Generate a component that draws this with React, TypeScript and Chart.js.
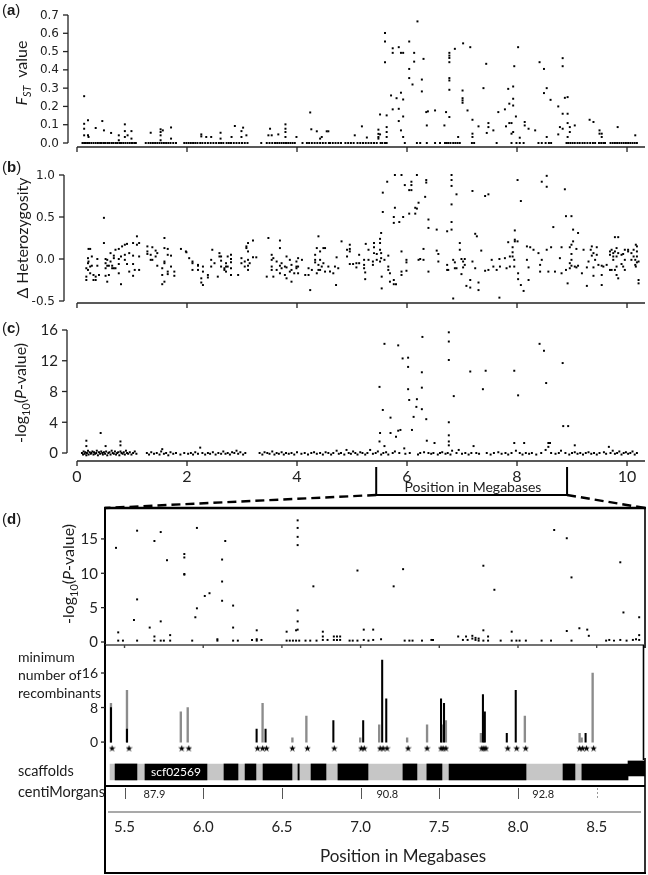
import React, { useEffect, useRef } from 'react';
import { Chart, registerables } from 'chart.js';

Chart.register(...registerables);

type Pt = [number, number];

// ================= DATA =================
const genomeTicks = [0, 2, 4, 6, 8, 10];
const genomeTickLabels = ['0', '2', '4', '6', '8', '10'];
const fstTicks = [0, 0.1, 0.2, 0.3, 0.4, 0.5, 0.6, 0.7];
const fstTickLabels = ['0.0', '0.1', '0.2', '0.3', '0.4', '0.5', '0.6', '0.7'];
const hetTicks = [-0.5, 0, 0.5, 1.0];
const hetTickLabels = ['-0.5', '0.0', '0.5', '1.0'];
const pTicks = [0, 4, 8, 12, 16];
const pTickLabels = ['0', '4', '8', '12', '16'];
const zoomTicks = [5.5, 6.0, 6.5, 7.0, 7.5, 8.0, 8.5];
const zoomTickLabels = ['5.5', '6.0', '6.5', '7.0', '7.5', '8.0', '8.5'];
const zoomPTicks = [0, 5, 10, 15];
const zoomPTickLabels = ['0', '5', '10', '15'];
const recTicks = [0, 8, 16];
const recTickLabels = ['0', '8', '16'];
const bracketMb: [number, number] = [5.44, 8.91];

// (a) FST values (Mb, FST)
const fstPoints: Pt[] = [
  [0.13, 0.256], [0.13, 0.105], [0.13, 0.078], [0.13, 0.042], [0.2, 0.124], [0.2, 0.042], [0.21, 0.033], [0.34, 0.082],
  [0.46, 0.12], [0.49, 0.069], [0.62, 0.055], [0.76, 0.042], [0.76, 0.015], [0.87, 0.102], [0.87, 0.065], [0.87, 0.033],
  [0.92, 0.042], [0.99, 0.065], [0.99, 0.024], [1.34, 0.056], [1.52, 0.075], [1.52, 0.06], [1.52, 0.042], [1.52, 0.015],
  [1.56, 0.069], [1.71, 0.085], [1.71, 0.024], [2.26, 0.047], [2.26, 0.036], [2.35, 0.033], [2.44, 0.033], [2.61, 0.056],
  [2.61, 0.024], [2.81, 0.033], [2.87, 0.093], [2.99, 0.065], [2.99, 0.033], [3.02, 0.084], [3.08, 0.042], [3.48, 0.042],
  [3.51, 0.078], [3.54, 0.042], [3.66, 0.047], [3.79, 0.102], [3.79, 0.078], [3.79, 0.06], [3.79, 0.033], [3.99, 0.033],
  [4.24, 0.167], [4.26, 0.075], [4.36, 0.064], [4.42, 0.024], [4.45, 0.033], [4.57, 0.064],
  [4.54, 0.064], [5.05, 0.042], [5.18, 0.091], [5.27, 0.03], [5.48, 0.073], [5.48, 0.05], [5.48, 0.033], [5.48, 0.024],
  [5.51, 0.156], [5.51, 0.047], [5.6, 0.602], [5.6, 0.555], [5.6, 0.442], [5.63, 0.151], [5.63, 0.087], [5.63, 0.06],
  [5.63, 0.033], [5.71, 0.26], [5.74, 0.518], [5.74, 0.493], [5.74, 0.184], [5.81, 0.245], [5.85, 0.524], [5.85, 0.187],
  [5.85, 0.12], [5.89, 0.493], [5.89, 0.275], [5.89, 0.069], [5.93, 0.493], [5.93, 0.238], [5.93, 0.145], [5.93, 0.033],
  [6.04, 0.555], [6.04, 0.405], [6.04, 0.355], [6.1, 0.32], [6.13, 0.493], [6.13, 0.445], [6.19, 0.665], [6.27, 0.347],
  [6.27, 0.282], [6.3, 0.46], [6.35, 0.169], [6.36, 0.096], [6.38, 0.173], [6.51, 0.178], [6.68, 0.096], [6.71, 0.169],
  [6.77, 0.493], [6.77, 0.478], [6.77, 0.465], [6.77, 0.442], [6.77, 0.355], [6.77, 0.342], [6.77, 0.291], [6.77, 0.142],
  [6.87, 0.515], [6.93, 0.033], [7.01, 0.287], [7.01, 0.245], [7.01, 0.233], [7.01, 0.22], [7.02, 0.545], [7.1, 0.178],
  [7.15, 0.524], [7.19, 0.127], [7.19, 0.051], [7.19, 0.033], [7.3, 0.091], [7.39, 0.3], [7.44, 0.433], [7.45, 0.055],
  [7.48, 0.109], [7.48, 0.087], [7.57, 0.069], [7.66, 0.169], [7.78, 0.184], [7.8, 0.091], [7.84, 0.296], [7.86, 0.215],
  [7.86, 0.109], [7.9, 0.109], [7.9, 0.051], [7.93, 0.309], [7.93, 0.242], [7.93, 0.205], [7.93, 0.06], [7.95, 0.42],
  [7.98, 0.145], [8.02, 0.524], [8.05, 0.029], [8.14, 0.115], [8.14, 0.096], [8.21, 0.078], [8.33, 0.069], [8.41, 0.442],
  [8.49, 0.405], [8.49, 0.273], [8.54, 0.3], [8.54, 0.033], [8.61, 0.236], [8.75, 0.2], [8.75, 0.047], [8.78, 0.087],
  [8.83, 0.464], [8.83, 0.42], [8.83, 0.16], [8.83, 0.078], [8.87, 0.247], [8.92, 0.251], [8.92, 0.16], [8.92, 0.109],
  [8.92, 0.033], [8.96, 0.087], [8.96, 0.06], [9.05, 0.096], [9.32, 0.127], [9.39, 0.115], [9.5, 0.069], [9.5, 0.051],
  [9.54, 0.051], [9.54, 0.033], [9.83, 0.087], [10.15, 0.042],
];
// (a) FST values at ~0
const fstZeroPoints: Pt[] = [
  [0.1, 0], [0.13, 0], [0.16, 0], [0.19, 0], [0.22, 0], [0.26, 0], [0.3, 0], [0.34, 0], [0.38, 0], [0.42, 0], [0.45, 0],
  [0.49, 0], [0.52, 0], [0.56, 0], [0.59, 0], [0.63, 0], [0.66, 0], [0.7, 0], [0.73, 0], [0.77, 0], [0.8, 0], [0.84, 0],
  [0.88, 0], [0.92, 0], [0.96, 0], [1.0, 0], [1.04, 0], [1.07, 0], [1.25, 0], [1.3, 0], [1.34, 0], [1.38, 0], [1.42, 0],
  [1.46, 0], [1.5, 0], [1.54, 0], [1.58, 0], [1.62, 0], [1.66, 0], [1.7, 0], [1.75, 0], [1.8, 0], [1.95, 0], [1.99, 0],
  [2.03, 0], [2.07, 0], [2.11, 0], [2.15, 0], [2.19, 0], [2.24, 0], [2.28, 0], [2.33, 0], [2.38, 0], [2.43, 0], [2.48, 0],
  [2.53, 0], [2.58, 0], [2.62, 0], [2.66, 0], [2.72, 0], [2.76, 0], [2.8, 0], [2.85, 0], [2.9, 0], [2.95, 0], [3.0, 0],
  [3.05, 0], [3.1, 0], [3.35, 0], [3.45, 0], [3.5, 0], [3.55, 0], [3.6, 0], [3.64, 0], [3.68, 0], [3.72, 0], [3.76, 0],
  [3.8, 0], [3.84, 0], [3.88, 0], [3.92, 0], [3.96, 0], [4.1, 0], [4.18, 0], [4.22, 0], [4.27, 0], [4.32, 0], [4.37, 0],
  [4.42, 0], [4.47, 0], [4.52, 0], [4.58, 0], [4.6, 0], [4.65, 0], [4.7, 0], [4.75, 0], [4.8, 0], [4.88, 0], [4.93, 0],
  [4.98, 0], [5.03, 0], [5.1, 0], [5.15, 0], [5.2, 0], [5.25, 0], [5.3, 0], [5.35, 0], [5.4, 0], [5.45, 0], [5.52, 0],
  [5.55, 0], [5.6, 0], [5.63, 0], [5.96, 0], [6.18, 0], [6.24, 0], [6.36, 0], [6.51, 0], [6.6, 0], [6.69, 0], [6.72, 0],
  [6.75, 0], [6.79, 0], [6.84, 0], [6.88, 0], [6.92, 0], [6.96, 0], [7.18, 0], [7.22, 0], [7.63, 0], [7.9, 0], [7.99, 0],
  [8.05, 0], [8.12, 0], [8.39, 0], [8.45, 0], [8.52, 0], [8.58, 0], [8.62, 0], [8.9, 0], [8.93, 0], [8.97, 0], [9.01, 0],
  [9.05, 0], [9.1, 0], [9.14, 0], [9.19, 0], [9.23, 0], [9.28, 0], [9.33, 0], [9.38, 0], [9.42, 0], [9.49, 0], [9.53, 0],
  [9.57, 0], [9.6, 0], [9.7, 0], [9.74, 0], [9.78, 0], [9.82, 0], [9.86, 0], [9.9, 0], [9.94, 0], [9.98, 0], [10.02, 0],
  [10.06, 0], [10.1, 0], [10.14, 0], [10.18, 0],
];

// (b) Δ heterozygosity (Mb, value)
const hetPoints: Pt[] = [
  [0.17, -0.11], [0.17, -0.21], [0.17, -0.25], [0.2, 0.01], [0.2, -0.05], [0.2, -0.13], [0.21, 0.12], [0.21, -0.03],
  [0.24, 0.12], [0.24, -0.09], [0.24, -0.17], [0.27, -0.08], [0.27, 0.03], [0.3, -0.19], [0.3, -0.25], [0.34, -0.25],
  [0.34, -0.21], [0.37, 0.0], [0.37, -0.08], [0.4, -0.19], [0.49, 0.49], [0.49, 0.19], [0.52, 0.0], [0.52, -0.05],
  [0.52, -0.11], [0.52, -0.2], [0.55, -0.01], [0.55, -0.08], [0.55, -0.27], [0.58, -0.08], [0.58, -0.19], [0.61, -0.03],
  [0.61, 0.07], [0.64, -0.08], [0.64, -0.11], [0.67, -0.11], [0.67, 0.01], [0.67, 0.04], [0.7, 0.11], [0.7, -0.11],
  [0.76, 0.12], [0.76, 0.0], [0.76, -0.06], [0.76, -0.17], [0.8, -0.3], [0.8, 0.03], [0.82, 0.15], [0.87, 0.17],
  [0.87, 0.05], [0.87, -0.01], [0.91, 0.18], [0.91, -0.06], [0.95, 0.07], [0.95, -0.15], [1.02, 0.19], [1.02, 0.04],
  [1.02, -0.06], [1.02, -0.2], [1.05, -0.13], [1.09, 0.27], [1.09, 0.17], [1.13, 0.19], [1.13, 0.03], [1.13, -0.13],
  [1.28, 0.15], [1.28, 0.09], [1.28, 0.06], [1.34, 0.05], [1.34, -0.01], [1.37, 0.14], [1.37, -0.01], [1.43, 0.1],
  [1.43, 0.03], [1.46, 0.07], [1.46, -0.08], [1.55, -0.11], [1.55, -0.19], [1.55, -0.3], [1.59, 0.25], [1.59, 0.13],
  [1.59, -0.03], [1.59, -0.05], [1.59, -0.27], [1.65, 0.12], [1.65, 0.05], [1.65, -0.15], [1.65, -0.18], [1.71, 0.04],
  [1.71, -0.09], [1.77, -0.15], [1.77, -0.2], [1.89, 0.12], [1.98, 0.09], [1.99, 0.08], [2.04, 0.01], [2.1, -0.03],
  [2.1, -0.05], [2.1, -0.13], [2.2, -0.07], [2.2, -0.08], [2.2, -0.13], [2.26, -0.23], [2.26, -0.28], [2.29, -0.09],
  [2.29, -0.15], [2.29, -0.31], [2.38, -0.19], [2.38, -0.22], [2.44, -0.01], [2.44, -0.09], [2.46, 0.11], [2.5, -0.05],
  [2.56, -0.21], [2.59, 0.07], [2.59, 0.03], [2.62, 0.03], [2.62, -0.02], [2.62, -0.09], [2.68, -0.11], [2.68, -0.13],
  [2.71, -0.05], [2.71, -0.09], [2.71, -0.15], [2.74, 0.03], [2.74, -0.09], [2.8, 0.05], [2.8, 0.0], [2.8, -0.04],
  [2.8, -0.11], [2.8, -0.19], [2.93, -0.19], [2.99, 0.01], [2.99, -0.05], [3.05, -0.03], [3.05, -0.09], [3.08, 0.15],
  [3.08, 0.13], [3.11, 0.19], [3.11, 0.09], [3.11, -0.01], [3.11, -0.08], [3.11, -0.13], [3.14, -0.05], [3.2, 0.22],
  [3.2, 0.02], [3.26, 0.02], [3.45, -0.21], [3.48, 0.25], [3.54, 0.05], [3.54, -0.01], [3.54, -0.09], [3.54, -0.13],
  [3.57, 0.01], [3.57, -0.21], [3.63, -0.03], [3.63, -0.13], [3.69, 0.22], [3.69, 0.13], [3.69, -0.08], [3.69, -0.17],
  [3.72, -0.05], [3.72, -0.11], [3.78, -0.09], [3.78, -0.19], [3.81, 0.03], [3.81, -0.1], [3.81, -0.23], [3.87, -0.01],
  [3.87, -0.15], [3.9, -0.07], [3.9, -0.13], [3.9, -0.27], [3.95, -0.17], [3.99, -0.03], [3.99, -0.09], [3.99, -0.11],
  [4.02, 0.01], [4.02, -0.09], [4.02, -0.17], [4.09, -0.01], [4.15, -0.19], [4.21, -0.11], [4.21, -0.19], [4.24, -0.37],
  [4.27, -0.13], [4.33, 0.05], [4.33, -0.01], [4.33, -0.04], [4.36, 0.13], [4.36, -0.17], [4.39, 0.27], [4.39, -0.07],
  [4.39, -0.13], [4.42, 0.09], [4.45, -0.09], [4.48, -0.05], [4.51, 0.13], [4.51, -0.15], [4.6, -0.15],
  [4.42, -0.01], [4.42, -0.13], [4.48, 0.13], [4.57, -0.09], [4.66, -0.17], [4.69, -0.09], [4.72, 0.02], [4.71, -0.31],
  [4.75, -0.11], [4.81, 0.21], [4.91, 0.11], [4.91, 0.03], [4.96, 0.17], [4.96, 0.12], [4.96, 0.09], [4.96, -0.06],
  [5.02, -0.06], [5.08, -0.05], [5.08, -0.1], [5.13, 0.05], [5.13, -0.05], [5.22, -0.01], [5.22, -0.07], [5.22, -0.11],
  [5.24, -0.16], [5.24, -0.24], [5.25, 0.18], [5.3, 0.11], [5.3, -0.01], [5.38, -0.03], [5.38, -0.07], [5.4, 0.19],
  [5.4, 0.14], [5.4, 0.07], [5.45, 0.06], [5.45, -0.01], [5.51, 0.24], [5.51, 0.19], [5.51, 0.11], [5.51, -0.03],
  [5.53, 0.31], [5.53, 0.07], [5.53, 0.01], [5.54, -0.21], [5.54, -0.35], [5.56, 0.79], [5.56, 0.56], [5.59, -0.01],
  [5.64, 0.92], [5.66, 0.04], [5.66, -0.09], [5.66, -0.13], [5.69, -0.17], [5.69, -0.27], [5.76, 0.5], [5.76, 0.43],
  [5.76, -0.25], [5.76, -0.3], [5.78, 1.0], [5.78, 0.61], [5.8, -0.3], [5.86, 0.44], [5.9, 1.0], [5.9, 0.09],
  [5.9, -0.15], [5.9, -0.19], [5.93, 0.5], [5.96, 0.88], [5.99, -0.01], [5.99, -0.04], [5.99, -0.14], [6.04, 0.82],
  [6.04, 0.54], [6.08, 0.92], [6.08, 0.88], [6.08, 0.82], [6.15, 0.61], [6.15, 0.54], [6.18, 1.0], [6.18, 0.6],
  [6.21, 0.67], [6.21, -0.01], [6.24, 0.0], [6.3, 0.12], [6.3, -0.01], [6.33, 0.74], [6.35, 0.94], [6.35, 0.91],
  [6.39, 0.47], [6.39, 0.37], [6.39, -0.15], [6.54, 0.35], [6.54, 0.1], [6.57, 0.06], [6.57, -0.03], [6.73, 0.33],
  [6.73, -0.07], [6.73, -0.13], [6.75, -0.13], [6.81, 1.0], [6.81, 0.94], [6.81, 0.87], [6.81, 0.65], [6.81, 0.44],
  [6.81, 0.35], [6.84, -0.01], [6.84, -0.47], [6.87, -0.04], [6.87, -0.11], [6.9, 0.77], [6.9, -0.11], [6.96, 0.19],
  [6.96, 0.11], [6.99, 0.0], [6.99, -0.18], [7.02, -0.03], [7.02, -0.1], [7.05, 0.0], [7.05, -0.07], [7.08, -0.32],
  [7.15, -0.25], [7.15, -0.34], [7.19, 0.81], [7.19, -0.03], [7.24, 0.3], [7.24, -0.11], [7.27, 0.27], [7.3, -0.28],
  [7.3, -0.37], [7.35, 0.1], [7.42, 0.75], [7.42, -0.14], [7.48, 0.77], [7.48, -0.13], [7.54, -0.01], [7.57, -0.09],
  [7.63, -0.13], [7.68, 0.0], [7.68, -0.46], [7.69, -0.09], [7.78, 0.01], [7.81, -0.11], [7.84, 0.2], [7.87, 0.03],
  [7.87, -0.09], [7.92, 0.14], [7.92, 0.08], [7.92, 0.03], [7.95, -0.01], [7.95, -0.09], [7.96, 0.34], [7.96, 0.23],
  [7.96, 0.21], [8.01, 0.94], [8.01, 0.21], [8.02, -0.17], [8.02, -0.24], [8.07, 0.69], [8.07, -0.31], [8.12, -0.38],
  [8.18, 0.15], [8.18, -0.01], [8.21, -0.1], [8.21, -0.25], [8.24, 0.14], [8.3, 0.11], [8.39, 0.07], [8.42, -0.07],
  [8.42, -0.15], [8.45, 0.92], [8.45, -0.01], [8.54, 0.99], [8.54, 0.86], [8.54, 0.11], [8.57, -0.15], [8.62, 0.14],
  [8.66, 0.38], [8.69, -0.15], [8.78, 0.01], [8.81, 0.14], [8.81, -0.17], [8.87, 0.83], [8.89, 0.51], [8.89, -0.13],
  [8.92, -0.29], [8.96, 0.14], [8.96, -0.05], [8.96, -0.11], [8.99, 0.51], [8.99, 0.17], [8.99, 0.06], [8.99, -0.01],
  [8.99, -0.08], [9.02, 0.35], [9.02, 0.21], [9.05, -0.09], [9.08, 0.12], [9.08, -0.1], [9.11, 0.31], [9.11, -0.08],
  [9.18, -0.17], [9.21, 0.11], [9.27, -0.1], [9.27, -0.32], [9.3, -0.03], [9.34, 0.11], [9.36, 0.15], [9.36, 0.04],
  [9.39, 0.07], [9.39, -0.1], [9.39, -0.2], [9.42, -0.01], [9.45, 0.14], [9.45, 0.05], [9.48, -0.07], [9.54, -0.08],
  [9.54, -0.19], [9.54, -0.31], [9.57, -0.09], [9.63, -0.07], [9.69, 0.09], [9.69, 0.05], [9.69, -0.13], [9.72, 0.11],
  [9.72, -0.13], [9.75, 0.07], [9.75, 0.03], [9.75, -0.01], [9.78, 0.26], [9.78, 0.09], [9.78, -0.13], [9.81, 0.13],
  [9.81, 0.03], [9.81, -0.09], [9.81, -0.19], [9.84, 0.26], [9.84, 0.07], [9.84, -0.23], [9.9, 0.05], [9.9, -0.06],
  [9.93, 0.06], [9.93, -0.09], [9.96, 0.11], [9.96, -0.01], [9.96, -0.13], [10.02, 0.11], [10.02, 0.09], [10.08, 0.07],
  [10.08, -0.01], [10.12, 0.11], [10.12, 0.03], [10.15, -0.01], [10.15, -0.07], [10.16, 0.17], [10.16, -0.09],
  [10.18, 0.15], [10.18, 0.09], [10.18, 0.03], [10.18, -0.04], [10.21, -0.03], [10.21, -0.25], [10.21, -0.29],
];

// (c) -log10(P) peaks (Mb, value)
const pvalPoints: Pt[] = [
  [0.17, 1.6], [0.17, 0.9], [0.43, 2.6], [0.52, 0.9], [0.79, 1.5], [0.79, 1.0], [1.55, 0.5], [2.24, 0.7],
  [5.5, 8.6], [5.5, 1.5], [5.51, 2.6], [5.56, 5.6], [5.59, 14.2], [5.59, 0.9], [5.7, 2.6], [5.7, 4.6], [5.73, 16.8],
  [5.8, 2.1], [5.84, 14.0], [5.84, 2.9], [5.88, 16.6], [5.88, 3.0], [5.92, 12.3], [5.95, 0.6], [6.02, 12.4], [6.02, 11.2],
  [6.02, 8.3], [6.04, 6.9], [6.09, 3.0], [6.12, 17.1], [6.12, 4.7], [6.17, 6.0], [6.18, 7.0], [6.27, 10.5], [6.27, 8.5],
  [6.27, 5.7], [6.28, 15.1], [6.35, 4.4], [6.36, 1.6], [6.5, 1.3], [6.76, 16.9], [6.76, 15.7], [6.76, 14.5], [6.76, 12.1],
  [6.76, 4.0], [6.76, 2.3], [6.76, 1.5], [6.76, 1.0], [6.85, 7.4], [7.15, 10.6], [7.21, 0.9], [7.38, 8.3], [7.43, 10.7],
  [7.95, 10.7], [7.95, 1.3], [8.02, 7.5], [8.13, 1.3], [8.41, 14.2], [8.49, 13.3], [8.53, 9.1], [8.57, 1.3], [8.57, 0.8],
  [8.6, 1.3], [8.83, 11.7], [8.84, 3.5], [8.93, 3.5], [9.05, 1.0], [9.67, 0.8],
];
// (c) -log10(P) near 0
const pvalLowPoints: Pt[] = [
  [0.09, 0.0], [0.11, -0.2], [0.12, 0.2], [0.14, -0.1], [0.15, 0.1], [0.17, -0.3], [0.18, 0.0], [0.2, 0.3], [0.21, -0.2],
  [0.23, 0.1], [0.25, -0.1], [0.26, 0.0], [0.28, 0.2], [0.3, -0.2], [0.31, 0.1], [0.33, -0.1], [0.35, 0.0], [0.36, 0.3],
  [0.38, -0.3], [0.4, 0.1], [0.42, -0.1], [0.44, 0.2], [0.46, 0.0], [0.47, -0.2], [0.49, 0.1], [0.51, -0.1], [0.53, 0.2],
  [0.55, -0.3], [0.57, 0.0], [0.59, 0.1], [0.61, -0.2], [0.63, 0.3], [0.65, 0.0], [0.67, -0.1], [0.69, 0.2], [0.71, -0.2],
  [0.73, 0.0], [0.75, 0.1], [0.77, -0.3], [0.79, 0.2], [0.81, 0.0], [0.83, -0.1], [0.85, 0.1], [0.87, -0.2], [0.89, 0.3],
  [0.91, 0.0], [0.93, -0.1], [0.96, 0.1], [0.99, -0.2], [1.02, 0.0], [1.05, 0.2], [1.08, -0.1], [1.27, 0.0], [1.31, -0.2],
  [1.35, 0.1], [1.4, -0.1], [1.45, 0.0], [1.5, -0.2], [1.53, 0.2], [1.58, -0.1], [1.62, 0.0], [1.66, -0.3], [1.7, 0.1],
  [1.75, -0.1], [1.8, 0.0], [1.88, -0.2], [1.95, 0.0], [2.02, -0.1], [2.07, 0.0], [2.11, -0.2], [2.15, 0.1], [2.2, -0.1],
  [2.28, 0.0], [2.33, -0.2], [2.38, 0.0], [2.42, -0.1], [2.47, 0.1], [2.52, -0.2], [2.57, 0.0], [2.62, -0.1], [2.66, 0.2],
  [2.7, -0.1], [2.74, 0.0], [2.78, -0.2], [2.82, 0.1], [2.86, 0.0], [2.9, 0.3], [2.93, -0.1], [2.97, 0.1], [3.02, -0.2],
  [3.06, 0.0], [3.32, 0.0], [3.37, -0.2], [3.41, 0.1], [3.46, 0.0], [3.5, -0.1], [3.55, 0.2], [3.59, -0.2], [3.63, 0.0],
  [3.67, -0.1], [3.72, 0.1], [3.76, -0.2], [3.8, 0.0], [3.85, -0.1], [3.9, 0.0], [3.95, -0.2], [4.0, 0.1], [4.08, -0.1],
  [4.14, 0.0], [4.2, -0.2], [4.26, 0.0], [4.31, 0.1], [4.36, -0.1], [4.42, 0.0], [4.47, -0.2], [4.52, 0.1], [4.57, 0.0],
  [4.62, -0.2], [4.66, 0.0], [4.72, 0.3], [4.76, -0.1], [4.8, 0.0], [4.86, -0.2], [4.9, 0.4], [4.94, 0.0], [4.98, -0.1],
  [5.02, 0.2], [5.06, 0.0], [5.1, -0.2], [5.15, 0.1], [5.19, 0.0], [5.24, -0.2], [5.28, 0.0], [5.33, 0.4], [5.38, -0.1],
  [5.43, 0.0], [5.47, 0.2], [5.53, -0.2], [5.57, 0.0], [5.62, 0.1], [5.66, -0.2], [5.74, 0.0], [5.78, 0.2], [5.86, 0.0],
  [5.97, -0.1], [6.05, 0.0], [6.2, -0.2], [6.24, 0.0], [6.31, 0.1], [6.39, 0.0], [6.44, -0.1], [6.48, 0.0], [6.56, -0.2],
  [6.6, 0.0], [6.64, 0.1], [6.7, -0.1], [6.74, 0.0], [6.79, -0.2], [6.82, 0.3], [6.9, 0.0], [6.94, 0.4], [7.0, -0.1],
  [7.06, 0.0], [7.12, -0.2], [7.17, 0.0], [7.26, 0.0], [7.31, -0.1], [7.45, 0.0], [7.52, -0.2], [7.58, 0.0], [7.66, 0.1],
  [7.72, -0.1], [7.79, 0.0], [7.84, -0.2], [7.9, 0.0], [7.98, 0.3], [8.05, 0.0], [8.1, -0.2], [8.16, 0.0], [8.22, -0.1],
  [8.27, 0.0], [8.35, -0.2], [8.44, 0.0], [8.52, 0.4], [8.62, 0.0], [8.7, -0.1], [8.76, 0.0], [8.8, 0.3], [8.88, 0.0],
  [8.95, -0.2], [9.0, 0.0], [9.05, 0.1], [9.1, -0.1], [9.15, 0.0], [9.2, -0.2], [9.25, 0.0], [9.3, 0.1], [9.35, -0.1],
  [9.4, 0.0], [9.45, -0.2], [9.5, 0.0], [9.58, 0.1], [9.62, -0.1], [9.7, 0.0], [9.74, 0.3], [9.78, -0.1], [9.82, 0.0],
  [9.86, 0.2], [9.9, -0.2], [9.94, 0.0], [9.98, 0.1], [10.02, -0.1], [10.06, 0.0], [10.1, 0.2], [10.14, -0.2], [10.18, 0.0],
];

// (d) zoomed -log10(P) (Mb, value)
const zoomPvals: Pt[] = [
  [5.446, 13.7], [5.46, 1.4], [5.46, 0.2], [5.49, 0.2], [5.56, 3.2], [5.58, 16.2], [5.58, 6.2], [5.58, 0.2], [5.66, 2.1],
  [5.69, 14.7], [5.69, 0.8], [5.69, 0.2], [5.73, 16.0], [5.73, 3.0], [5.73, 0.2], [5.75, 0.2], [5.77, 11.9], [5.79, 1.0],
  [5.79, 0.2], [5.88, 12.8], [5.88, 12.3], [5.88, 9.9], [5.88, 9.8], [5.93, 0.2], [5.95, 3.6], [5.96, 16.6], [5.96, 4.9],
  [6.01, 6.7], [6.04, 7.1], [6.09, 0.4], [6.09, 0.2], [6.12, 12.0], [6.12, 8.8], [6.12, 6.0], [6.14, 14.7], [6.19, 5.3],
  [6.19, 2.1], [6.19, 0.2], [6.22, 0.2], [6.31, 0.3], [6.34, 1.7], [6.34, 0.4], [6.34, 0.2], [6.37, 0.3], [6.53, 1.5],
  [6.53, 0.2], [6.55, 0.2], [6.57, 0.2], [6.59, 1.7], [6.59, 0.2], [6.6, 17.7], [6.6, 16.6], [6.6, 15.3], [6.6, 14.1],
  [6.6, 4.6], [6.6, 3.0], [6.6, 1.8], [6.61, 0.2], [6.65, 0.2], [6.68, 0.2], [6.7, 8.1], [6.72, 0.2], [6.76, 1.5],
  [6.76, 0.8], [6.76, 0.3], [6.79, 0.3], [6.83, 0.8], [6.83, 0.3], [6.85, 0.8], [6.85, 0.3], [6.87, 0.8], [6.87, 0.3],
  [6.93, 0.2], [6.95, 0.2], [6.98, 10.4], [6.98, 0.2], [7.02, 1.8], [7.02, 0.3], [7.05, 0.2], [7.08, 1.8], [7.08, 0.3],
  [7.13, 0.4], [7.21, 8.1], [7.27, 10.6], [7.28, 0.2], [7.31, 0.2], [7.33, 0.2], [7.39, 0.2], [7.45, 0.3], [7.46, 0.3],
  [7.62, 0.8], [7.65, 0.3], [7.67, 0.8], [7.68, 0.3], [7.71, 0.9], [7.71, 0.5], [7.73, 0.6], [7.73, 0.3], [7.75, 0.5],
  [7.75, 0.2], [7.78, 11.1], [7.78, 1.7], [7.78, 0.2], [7.81, 0.8], [7.81, 0.2], [7.85, 7.6], [7.89, 0.2], [7.96, 1.5],
  [7.96, 0.2], [7.99, 0.2], [8.01, 0.2], [8.05, 0.2], [8.15, 0.2], [8.21, 0.2], [8.23, 16.3], [8.31, 15.1], [8.31, 1.6],
  [8.34, 9.4], [8.34, 0.2], [8.39, 2.0], [8.44, 1.8], [8.45, 0.9], [8.56, 0.2], [8.58, 0.3], [8.61, 0.2], [8.65, 11.6],
  [8.65, 0.3], [8.67, 4.3], [8.69, 0.2], [8.73, 0.3], [8.75, 0.4], [8.77, 3.6], [8.77, 1.0], [8.77, 0.3],
];

// (d) minimum number of recombinants (Mb, count)
const recombGray: Pt[] = [
  [5.414, 9], [5.516, 12], [5.859, 7], [5.903, 8], [6.38, 9], [6.57, 1], [6.659, 6], [7.002, 1], [7.123, 4], [7.301, 1],
  [7.428, 4], [7.523, 4], [7.548, 5], [7.771, 2], [7.79, 6], [8.051, 6], [8.4, 2], [8.413, 1], [8.483, 16],
];
const recombBlack: Pt[] = [
  [5.414, 8], [5.516, 3], [6.342, 3], [6.399, 3], [6.831, 5], [7.021, 5], [7.142, 19], [7.168, 10], [7.517, 10],
  [7.536, 9], [7.784, 11], [7.796, 7], [7.936, 2], [7.993, 12], [8.438, 2],
];
// asterisks under the recombinant bars (Mb)
const recombStars = [
  5.421, 5.529, 5.865, 5.91, 6.348, 6.38, 6.405, 6.57, 6.666, 6.837, 7.009, 7.028, 7.129, 7.148, 7.173, 7.307, 7.428,
  7.517, 7.53, 7.548, 7.777, 7.79, 7.803, 7.942, 7.999, 8.056, 8.4, 8.419, 8.444, 8.489,
];

// (d) scaffolds (Mb ranges)
const scaffoldSpan: [number, number][] = [[5.408, 8.699]];
const scaffoldBlocks: [number, number][] = [
  [5.44, 5.579], [5.63, 6.024], [6.132, 6.221], [6.266, 6.335], [6.38, 6.564], [6.602, 6.61], [6.685, 6.78],
  [6.856, 7.047], [7.269, 7.358], [7.421, 7.517], [7.562, 8.051], [8.286, 8.362], [8.406, 8.699],
];
const scaffoldEndBlocks: [number, number][] = [[8.699, 8.813]];
const scaffoldNames = ['scf02569'];
const scaffoldNameBlock = [1];

// (d) centiMorgans
const cmTicks = [5.5, 6.0, 6.5, 7.0, 7.5, 8.0, 8.5];
const cmLabels = ['87.9', '90.8', '92.8'];
const cmLabelMb = [5.69, 7.17, 8.16];

// ================= LAYOUT / STYLE =================
const AXIS = '#222';
const D_LEFT_PAD = 105;
const D_RIGHT_PAD = 3;
const ROW_MAIN = -0.92;
const ROW_RAISED = -0.65;
const STAR_LEVEL = -1.4;

function dots(pts: Pt[]) {
  return {
    type: 'scatter',
    data: pts.map(([x, y]) => ({ x, y })),
    pointStyle: 'rect',
    pointRadius: 1.4,
    pointHoverRadius: 0,
    pointBackgroundColor: '#000',
    pointBorderWidth: 0,
    showLine: false,
    clip: false,
  };
}

function baseOptions(pad: any, xr: number[], yr: number[], extra: any = {}) {
  return {
    responsive: false,
    animation: false,
    events: [],
    layout: { padding: pad },
    plugins: { legend: { display: false }, tooltip: { enabled: false } },
    scales: {
      x: { type: 'linear', display: false, offset: false, min: xr[0], max: xr[1] },
      y: { type: 'linear', display: false, offset: false, min: yr[0], max: yr[1] },
    },
    ...extra,
  };
}

function line(ctx: any, x1: number, y1: number, x2: number, y2: number) {
  ctx.beginPath();
  ctx.moveTo(x1, y1);
  ctx.lineTo(x2, y2);
  ctx.stroke();
}

type YAx = { ticks: number[]; labels: string[]; from?: number; to?: number; x: number; tick: number; gap: number; font: string; lw?: number };
function drawY(chart: any, ax: YAx) {
  const { ctx } = chart;
  const s = chart.scales.y;
  ctx.save();
  ctx.strokeStyle = AXIS;
  ctx.fillStyle = AXIS;
  ctx.lineWidth = ax.lw ?? 1.3;
  if (ax.from !== undefined && ax.to !== undefined) line(ctx, ax.x, s.getPixelForValue(ax.from), ax.x, s.getPixelForValue(ax.to));
  ctx.font = ax.font;
  ctx.textAlign = 'right';
  ctx.textBaseline = 'middle';
  ax.ticks.forEach((v, i) => {
    const y = s.getPixelForValue(v);
    line(ctx, ax.x, y, ax.x - ax.tick, y);
    ctx.fillText(ax.labels[i], ax.x - ax.tick - ax.gap, y + 0.5);
  });
  ctx.restore();
}

type XAx = { ticks: number[]; labels?: string[]; y: number; x1: number; x2: number; tick: number; labelY?: number; font?: string; lw?: number; color?: string };
function drawX(chart: any, ax: XAx) {
  const { ctx } = chart;
  const s = chart.scales.x;
  ctx.save();
  ctx.strokeStyle = ax.color ?? AXIS;
  ctx.fillStyle = AXIS;
  ctx.lineWidth = ax.lw ?? 1.3;
  line(ctx, ax.x1, ax.y, ax.x2, ax.y);
  if (ax.font) ctx.font = ax.font;
  ctx.textAlign = 'center';
  ctx.textBaseline = 'middle';
  ax.ticks.forEach((v, i) => {
    const x = s.getPixelForValue(v);
    if (ax.tick > 0) line(ctx, x, ax.y, x, ax.y + ax.tick);
    if (ax.labels && ax.labelY !== undefined) ctx.fillText(ax.labels[i], x, ax.labelY);
  });
  ctx.restore();
}

function starImage(size: number) {
  const c = document.createElement('canvas');
  c.width = size;
  c.height = size;
  const g = c.getContext('2d')!;
  g.fillStyle = '#000';
  g.beginPath();
  const cx = size / 2, cy = size / 2 + 0.4, R = size / 2, r = R * 0.42;
  for (let i = 0; i < 10; i++) {
    const a = -Math.PI / 2 + (i * Math.PI) / 5;
    const rad = i % 2 === 0 ? R : r;
    const px = cx + rad * Math.cos(a), py = cy + rad * Math.sin(a);
    if (i === 0) g.moveTo(px, py);
    else g.lineTo(px, py);
  }
  g.closePath();
  g.fill();
  return c;
}

// ---------- chart configs ----------
const genomeX = [-0.1636, 10.327];
const zoomX = [5.376, 8.807];

function configA() {
  return {
    type: 'scatter',
    data: { datasets: [dots(fstZeroPoints), dots(fstPoints)] },
    options: baseOptions({ left: 68, right: 3, top: 15, bottom: 13 }, genomeX, [-0.0219, 0.7]),
    plugins: [{
      id: 'axA',
      afterDraw(chart: any) {
        const a = chart.chartArea;
        drawY(chart, { ticks: fstTicks, labels: fstTickLabels, from: 0, to: 0.7, x: a.left, tick: 5, gap: 4, font: '12px "DejaVu Sans"' });
        const sx = chart.scales.x;
        drawX(chart, { ticks: genomeTicks, y: a.bottom, x1: sx.getPixelForValue(0), x2: a.right, tick: 5 });
      },
    }],
  };
}

function configB() {
  return {
    type: 'scatter',
    data: { datasets: [dots(hetPoints)] },
    options: baseOptions({ left: 64, right: 3, top: 15, bottom: 7 }, [-0.236, 10.327], [-0.5238, 1.0]),
    plugins: [{
      id: 'axB',
      afterDraw(chart: any) {
        const a = chart.chartArea;
        drawY(chart, { ticks: hetTicks, labels: hetTickLabels, from: -0.5, to: 1.0, x: a.left, tick: 5, gap: 4, font: '12px "DejaVu Sans"' });
        const sx = chart.scales.x;
        drawX(chart, { ticks: genomeTicks, y: a.bottom, x1: sx.getPixelForValue(0), x2: a.right, tick: 5 });
      },
    }],
  };
}

function configC() {
  return {
    type: 'scatter',
    data: { datasets: [dots(pvalLowPoints), dots(pvalPoints)] },
    options: baseOptions({ left: 67, right: 3, top: 20, bottom: 54 }, [-0.1818, 10.327], [-1.04, 16]),
    plugins: [{
      id: 'axC',
      afterDraw(chart: any) {
        const { ctx } = chart;
        const a = chart.chartArea;
        const sx = chart.scales.x;
        drawY(chart, { ticks: pTicks, labels: pTickLabels, from: 0, to: 16, x: a.left, tick: 5, gap: 4, font: '15px Lato' });
        drawX(chart, { ticks: genomeTicks, labels: genomeTickLabels, y: a.bottom, x1: sx.getPixelForValue(0), x2: a.right, tick: 5, labelY: a.bottom + 16, font: '16px Lato' });
        ctx.save();
        ctx.fillStyle = AXIS;
        ctx.font = '14px Lato';
        ctx.textAlign = 'center';
        ctx.textBaseline = 'middle';
        ctx.fillText('Position in Megabases', 473, a.bottom + 26);
        const bx1 = sx.getPixelForValue(bracketMb[0]);
        const bx2 = sx.getPixelForValue(bracketMb[1]);
        const top = a.bottom + 6;
        const bot = a.bottom + 34;
        ctx.strokeStyle = '#000';
        ctx.lineWidth = 2;
        ctx.beginPath();
        ctx.moveTo(bx1, top);
        ctx.lineTo(bx1, bot);
        ctx.lineTo(bx2, bot);
        ctx.lineTo(bx2, top);
        ctx.stroke();
        const boxTop = a.bottom + 47;
        ctx.setLineDash([9, 5]);
        ctx.lineWidth = 2.4;
        line(ctx, bx1, bot, D_LEFT_PAD, boxTop);
        line(ctx, bx2, bot, chart.width - D_RIGHT_PAD, boxTop);
        ctx.restore();
      },
    }],
  };
}

function boxSides(chart: any, y1: number, y2: number) {
  const { ctx } = chart;
  const a = chart.chartArea;
  ctx.save();
  ctx.strokeStyle = '#000';
  ctx.lineWidth = 2;
  line(ctx, a.left, y1, a.left, y2);
  ctx.lineWidth = 1.6;
  line(ctx, a.right, y1, a.right, y2);
  ctx.restore();
}

function configD1() {
  return {
    type: 'scatter',
    data: { datasets: [dots(zoomPvals)] },
    options: baseOptions({ left: D_LEFT_PAD, right: D_RIGHT_PAD, top: 8, bottom: 3 }, zoomX, [-0.437, 19.5]),
    plugins: [{
      id: 'axD1',
      afterDraw(chart: any) {
        const { ctx } = chart;
        const a = chart.chartArea;
        boxSides(chart, a.top - 1, chart.height);
        ctx.save();
        ctx.strokeStyle = '#000';
        ctx.lineWidth = 2.6;
        line(ctx, a.left - 1, a.top, a.right + 1, a.top);
        ctx.restore();
        drawY(chart, { ticks: zoomPTicks, labels: zoomPTickLabels, x: a.left, tick: 4, gap: 3, font: '15px Lato' });
        drawX(chart, { ticks: zoomTicks, y: a.bottom, x1: a.left, x2: a.right, tick: 5, color: '#444', lw: 1.4 });
      },
    }],
  };
}

function configD2(star: any) {
  // Chart.js paints dataset 0 last (on top): black bars first, gray bars behind them
  return {
    type: 'bar',
    data: {
      datasets: [
        { type: 'scatter', data: recombStars.map((x) => ({ x, y: STAR_LEVEL })), pointStyle: star, pointRadius: 3.5, pointHoverRadius: 0, clip: false },
        { type: 'bar', data: recombBlack.map(([x, y]) => ({ x, y })), backgroundColor: '#000', barThickness: 1.4, grouped: false, borderWidth: 0 },
        { type: 'bar', data: recombGray.map(([x, y]) => ({ x, y })), backgroundColor: '#8c8c8c', barThickness: 1.7, grouped: false, borderWidth: 0 },
      ],
    },
    options: baseOptions({ left: D_LEFT_PAD, right: D_RIGHT_PAD, top: 5, bottom: 0 }, zoomX, [-3.11, 21.33]),
    plugins: [{
      id: 'axD2',
      afterDraw(chart: any) {
        const a = chart.chartArea;
        boxSides(chart, 0, chart.height);
        drawY(chart, { ticks: recTicks, labels: recTickLabels, x: a.left, tick: 4, gap: 3, font: '14px Lato' });
      },
    }],
  };
}

function configD3() {
  const bar = (ranges: [number, number][], row: number, color: string, th: number) => ({
    type: 'bar',
    data: ranges.map((r) => ({ x: r, y: row })),
    backgroundColor: color,
    barThickness: th,
    grouped: false,
    borderWidth: 0,
    borderSkipped: false,
  });
  // dataset 0 is painted on top, so the gray backdrop goes last
  return {
    type: 'bar',
    data: {
      datasets: [
        bar(scaffoldEndBlocks, ROW_RAISED, '#000', 15),
        bar(scaffoldBlocks, ROW_MAIN, '#000', 16),
        bar(scaffoldSpan, ROW_MAIN, '#c6c6c6', 16),
      ],
    },
    options: baseOptions({ left: D_LEFT_PAD, right: D_RIGHT_PAD, top: 2, bottom: 63 }, zoomX, [-4, 0], { indexAxis: 'y' }),
    plugins: [{
      id: 'axD3',
      afterDraw(chart: any) {
        const { ctx } = chart;
        const a = chart.chartArea;
        const sx = chart.scales.x;
        const sy = chart.scales.y;
        const boxBottom = chart.height - 2;
        boxSides(chart, 0, boxBottom);
        ctx.save();
        ctx.fillStyle = '#fff';
        ctx.font = '12px Lato';
        ctx.textAlign = 'center';
        ctx.textBaseline = 'middle';
        scaffoldNames.forEach((n, i) => {
          const b = scaffoldBlocks[scaffoldNameBlock[i]];
          ctx.fillText(n, (sx.getPixelForValue(b[0]) + sx.getPixelForValue(b[1])) / 2, sy.getPixelForValue(ROW_MAIN));
        });
        ctx.strokeStyle = '#000';
        ctx.lineWidth = 2;
        line(ctx, a.left, a.top + 26, a.right, a.top + 26);
        ctx.lineWidth = 1;
        cmTicks.forEach((v, i) => {
          const x = Math.round(sx.getPixelForValue(v)) + 0.5;
          if (i === cmTicks.length - 1) {
            ctx.strokeStyle = '#999';
            ctx.setLineDash([2, 2]);
          } else {
            ctx.strokeStyle = '#555';
            ctx.setLineDash([]);
          }
          line(ctx, x, a.top + 28, x, a.top + 39);
        });
        ctx.setLineDash([]);
        ctx.fillStyle = AXIS;
        ctx.font = '11px Lato';
        cmLabels.forEach((t, i) => ctx.fillText(t, sx.getPixelForValue(cmLabelMb[i]), a.top + 34));
        ctx.restore();
        drawX(chart, { ticks: zoomTicks, labels: zoomTickLabels, y: a.bottom, x1: a.left + 3, x2: a.right - 4, tick: 0, labelY: a.bottom + 15, font: '15px Lato', color: '#555', lw: 1.2 });
        ctx.save();
        ctx.fillStyle = AXIS;
        ctx.font = '17px Lato';
        ctx.textAlign = 'center';
        ctx.textBaseline = 'middle';
        ctx.fillText('Position in Megabases', 403, a.bottom + 45);
        ctx.strokeStyle = '#000';
        ctx.lineWidth = 2;
        line(ctx, a.left - 1, boxBottom, a.right + 1, boxBottom);
        ctx.restore();
      },
    }],
  };
}

function ChartCanvas({ left, top, width, height, make }: any) {
  const ref = useRef<HTMLCanvasElement>(null);
  useEffect(() => {
    const chart = new Chart(ref.current as HTMLCanvasElement, make());
    return () => chart.destroy();
  }, []);
  return (
    <canvas ref={ref} width={width} height={height} style={{ position: 'absolute', left, top, width, height }} />
  );
}

const txt: React.CSSProperties = { position: 'absolute', fontFamily: 'Lato, sans-serif', color: '#1a1a1a', whiteSpace: 'nowrap', lineHeight: 1 };
const sub: React.CSSProperties = { fontSize: '0.68em', verticalAlign: '-0.3em' };

function Rot({ cx, cy, size, children }: any) {
  return (
    <div style={{ ...txt, left: cx, top: cy, fontSize: size, transform: 'translate(-50%, -50%) rotate(-90deg)' }}>{children}</div>
  );
}

function Letter({ top, l }: any) {
  return (
    <div style={{ ...txt, left: 2, top, fontSize: 15, fontFamily: '"Liberation Sans", Arial, sans-serif' }}>
      (<b>{l}</b>)
    </div>
  );
}

const LogP = () => (
  <span>
    -log<span style={sub}>10</span>(<i>P</i>-value)
  </span>
);

export default function App() {
  const starRef = useRef<any>(null);
  if (!starRef.current && typeof document !== 'undefined') starRef.current = starImage(7);
  return (
    <div style={{ position: 'absolute', left: 0, top: 0, width: 648, height: 875, background: '#fff', overflow: 'hidden' }}>
      <ChartCanvas left={0} top={0} width={648} height={160} make={configA} />
      <ChartCanvas left={0} top={160} width={648} height={150} make={configB} />
      <ChartCanvas left={0} top={310} width={648} height={205} make={configC} />
      <ChartCanvas left={0} top={500} width={648} height={148} make={configD1} />
      <ChartCanvas left={0} top={645} width={648} height={115} make={() => configD2(starRef.current)} />
      <ChartCanvas left={0} top={758} width={648} height={117} make={configD3} />

      <Letter top={2} l="a" />
      <Letter top={159} l="b" />
      <Letter top={320} l="c" />
      <Letter top={511} l="d" />

      <Rot cx={23} cy={73} size={16}>
        <i>F</i><i style={sub}>ST</i>&nbsp; value
      </Rot>
      <Rot cx={22} cy={238} size={16}>Δ Heterozygosity</Rot>
      <Rot cx={22} cy={393} size={16}><LogP /></Rot>
      <Rot cx={70} cy={574} size={16}><LogP /></Rot>

      <div style={{ ...txt, left: 18, top: 648, fontSize: 14, lineHeight: '18px' }}>
        minimum<br />number of<br />recombinants
      </div>
      <div style={{ ...txt, left: 18, top: 764, fontSize: 14.5 }}>scaffolds</div>
      <div style={{ ...txt, left: 18, top: 785, fontSize: 14.5 }}>centiMorgans</div>
    </div>
  );
}
